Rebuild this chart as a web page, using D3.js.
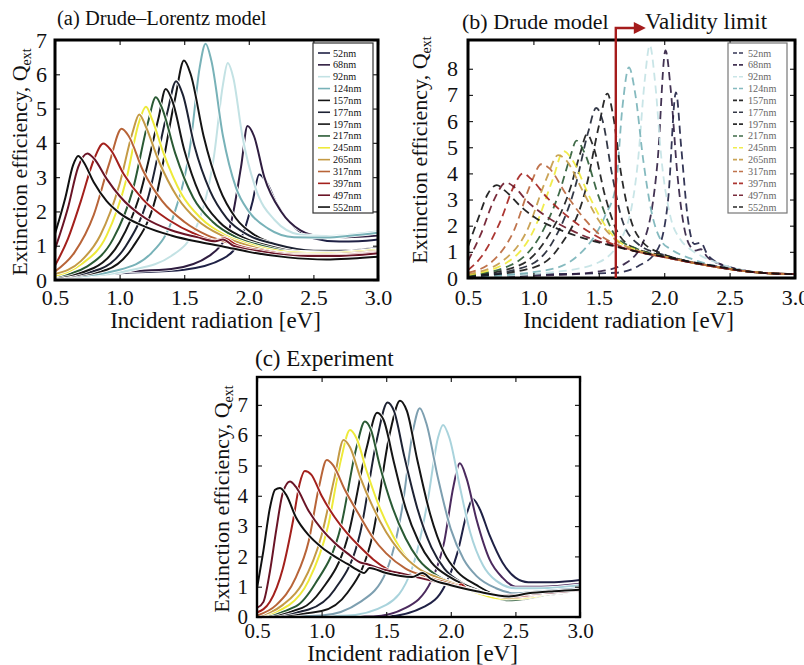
<!DOCTYPE html>
<html>
<head>
<meta charset="utf-8">
<script src="https://cdn.jsdelivr.net/npm/d3@7"></script>
<style>
  body { margin: 0; background: #fff; }
  svg { display: block; }
  svg text { font-family: "Liberation Serif", "Times New Roman", serif !important; }
</style>
</head>
<body>
<svg id="chart" width="804" height="665"></svg>
<script>
// particle sizes, same order in every panel
var sizes = ["52nm", "68nm", "92nm", "124nm", "157nm", "177nm", "197nm",
             "217nm", "245nm", "265nm", "317nm", "397nm", "497nm", "552nm"];

// line colours, one per size
var lineColors = ["#1f2145", "#2f1d40", "#c3e2e4", "#78b2b8", "#141414", "#1d2233", "#161616",
                  "#2a5a34", "#eeea3a", "#c49a45", "#b86438", "#a3201c", "#6a1426", "#111111"];

var xTicks = [0.5, 1.0, 1.5, 2.0, 2.5, 3.0];
var yTicksA = [0, 1, 2, 3, 4, 5, 6, 7];
var yTicksB = [0, 1, 2, 3, 4, 5, 6, 7, 8];
var yTicksC = [0, 1, 2, 3, 4, 5, 6, 7];

// (a) Drude-Lorentz model, [eV, Qext]
var curvesA = [
  [[0.5,0.04],[1.0,0.2],[1.5,0.3],[1.8,0.62],[1.95,1.3],[2.03,2.3],[2.08,3.08],[2.13,2.9],[2.22,2.2],[2.35,1.55],[2.5,1.22],[2.7,1.12],[2.85,1.13],[3.0,1.18]],
  [[0.5,0.05],[1.0,0.24],[1.4,0.32],[1.7,0.72],[1.85,1.5],[1.94,3.3],[1.99,4.49],[2.04,4.2],[2.12,3.0],[2.25,2.0],[2.4,1.45],[2.55,1.28],[2.75,1.25],[3.0,1.3]],
  [[0.5,0.04],[1.1,0.3],[1.4,0.7],[1.6,1.6],[1.73,3.6],[1.8,5.7],[1.837,6.33],[1.88,5.9],[1.95,4.2],[2.05,2.7],[2.2,1.75],[2.4,1.32],[2.6,1.28],[2.8,1.33],[3.0,1.42]],
  [[0.5,0.05],[1.0,0.3],[1.25,0.8],[1.42,1.9],[1.55,4.0],[1.62,6.2],[1.666,6.89],[1.71,6.4],[1.8,4.2],[1.9,2.7],[2.0,2.0],[2.15,1.5],[2.35,1.25],[2.6,1.24],[2.8,1.3],[3.0,1.38]],
  [[0.5,0.06],[0.9,0.3],[1.1,0.95],[1.28,2.4],[1.43,5.3],[1.498,6.4],[1.55,6.0],[1.65,4.2],[1.77,2.7],[1.9,1.8],[2.05,1.3],[2.25,1.0],[2.5,0.86],[2.75,0.86],[3.0,0.95]],
  [[0.5,0.07],[0.85,0.32],[1.05,1.0],[1.22,2.4],[1.37,4.9],[1.437,5.8],[1.49,5.4],[1.58,3.9],[1.7,2.6],[1.83,1.8],[2.0,1.3],[2.2,1.05],[2.5,0.85],[2.75,0.84],[3.0,0.93]],
  [[0.5,0.08],[0.8,0.35],[1.0,1.1],[1.15,2.4],[1.3,4.7],[1.357,5.57],[1.41,5.2],[1.5,3.8],[1.62,2.5],[1.77,1.7],[1.95,1.25],[2.15,1.0],[2.4,0.82],[2.7,0.8],[3.0,0.9]],
  [[0.5,0.1],[0.75,0.4],[0.95,1.2],[1.1,2.6],[1.22,4.6],[1.28,5.33],[1.33,5.0],[1.43,3.7],[1.57,2.4],[1.72,1.7],[1.9,1.25],[2.1,1.0],[2.4,0.8],[2.7,0.78],[3.0,0.88]],
  [[0.5,0.12],[0.7,0.45],[0.9,1.3],[1.05,2.9],[1.15,4.6],[1.204,5.05],[1.25,4.7],[1.34,3.7],[1.48,2.5],[1.63,1.8],[1.82,1.3],[2.0,1.05],[2.3,0.82],[2.6,0.78],[3.0,0.88]],
  [[0.5,0.18],[0.7,0.55],[0.85,1.3],[1.0,2.8],[1.1,4.3],[1.152,4.83],[1.2,4.5],[1.3,3.5],[1.45,2.4],[1.6,1.75],[1.8,1.28],[2.0,1.0],[2.3,0.78],[2.6,0.75],[3.0,0.85]],
  [[0.5,0.25],[0.65,0.8],[0.8,1.9],[0.92,3.4],[1.016,4.41],[1.07,4.2],[1.18,3.2],[1.33,2.3],[1.5,1.7],[1.68,1.3],[1.85,1.08],[2.0,0.93],[2.3,0.75],[2.6,0.72],[3.0,0.82]],
  [[0.5,0.42],[0.6,1.2],[0.7,2.3],[0.8,3.5],[0.874,3.98],[0.93,3.8],[1.03,3.1],[1.18,2.35],[1.38,1.75],[1.58,1.35],[1.74,1.15],[1.81,1.22],[1.9,1.03],[2.1,0.86],[2.4,0.72],[2.7,0.72],[3.0,0.8]],
  [[0.5,0.9],[0.6,2.1],[0.68,3.3],[0.75,3.69],[0.8,3.55],[0.9,2.95],[1.0,2.45],[1.2,1.8],[1.4,1.45],[1.6,1.25],[1.74,1.13],[1.8,1.18],[1.88,1.0],[2.1,0.83],[2.4,0.7],[2.7,0.7],[3.0,0.78]],
  [[0.5,1.35],[0.58,2.4],[0.64,3.35],[0.68,3.62],[0.72,3.45],[0.8,2.85],[0.9,2.3],[1.0,1.95],[1.2,1.55],[1.4,1.3],[1.6,1.12],[1.8,0.98],[2.0,0.82],[2.3,0.66],[2.6,0.6],[2.8,0.63],[3.0,0.68]]
];

// (b) Drude model
var curvesB = [
  [[0.5,0.12],[1.0,0.14],[1.4,0.17],[1.63,0.2],[1.8,0.45],[1.95,1.1],[2.03,3.0],[2.09,7.1],[2.13,5.0],[2.18,2.3],[2.23,1.3],[2.28,1.35],[2.33,0.9],[2.4,0.6],[2.6,0.3],[2.8,0.18],[3.0,0.15]],
  [[0.5,0.04],[1.2,0.12],[1.5,0.25],[1.7,0.55],[1.85,1.5],[1.95,4.5],[2.01,8.7],[2.05,7.2],[2.1,4.0],[2.15,2.0],[2.2,1.2],[2.24,1.05],[2.28,1.1],[2.33,0.8],[2.45,0.5],[2.6,0.3],[2.8,0.18],[3.0,0.15]],
  [[0.5,0.03],[1.2,0.25],[1.5,0.6],[1.7,1.8],[1.8,4.5],[1.85,7.5],[1.89,8.9],[1.93,7.5],[1.98,4.5],[2.05,2.3],[2.12,1.5],[2.2,1.1],[2.3,0.8],[2.45,0.5],[2.6,0.3],[2.8,0.18],[3.0,0.15]],
  [[0.5,0.04],[1.1,0.3],[1.35,0.9],[1.55,2.4],[1.63,3.5],[1.68,6.5],[1.73,8.05],[1.78,7.0],[1.84,4.5],[1.9,2.6],[1.98,1.4],[2.05,1.1],[2.2,0.75],[2.4,0.45],[2.6,0.28],[2.8,0.18],[3.0,0.15]],
  [[0.5,0.05],[1.0,0.4],[1.2,1.2],[1.4,3.4],[1.5,5.8],[1.565,7.05],[1.61,6.2],[1.67,4.0],[1.74,2.3],[1.83,1.4],[2.0,0.9],[2.2,0.62],[2.4,0.43],[2.6,0.27],[2.8,0.18],[3.0,0.15]],
  [[0.5,0.06],[0.95,0.45],[1.15,1.4],[1.32,3.5],[1.42,5.6],[1.48,6.5],[1.53,6.0],[1.6,4.0],[1.68,2.2],[1.8,1.3],[2.0,0.88],[2.2,0.62],[2.4,0.43],[2.6,0.27],[2.8,0.18],[3.0,0.15]],
  [[0.5,0.08],[0.9,0.5],[1.1,1.5],[1.28,3.4],[1.36,4.8],[1.41,5.5],[1.46,5.0],[1.55,3.1],[1.63,1.9],[1.75,1.2],[2.0,0.85],[2.2,0.6],[2.4,0.42],[2.6,0.27],[2.8,0.18],[3.0,0.15]],
  [[0.5,0.1],[0.85,0.55],[1.05,1.6],[1.2,3.3],[1.28,4.6],[1.33,5.25],[1.39,4.8],[1.5,3.1],[1.63,1.6],[1.8,1.1],[2.0,0.82],[2.2,0.6],[2.4,0.42],[2.6,0.27],[2.8,0.18],[3.0,0.15]],
  [[0.5,0.12],[0.8,0.6],[1.0,1.8],[1.15,3.8],[1.23,4.85],[1.3,4.5],[1.42,3.2],[1.55,2.0],[1.63,1.5],[1.8,1.05],[2.0,0.82],[2.2,0.6],[2.4,0.42],[2.6,0.27],[2.8,0.18],[3.0,0.15]],
  [[0.5,0.15],[0.75,0.6],[0.95,1.8],[1.1,3.8],[1.19,4.7],[1.25,4.5],[1.38,3.3],[1.5,2.2],[1.63,1.45],[1.8,1.05],[2.0,0.8],[2.2,0.6],[2.4,0.42],[2.6,0.27],[2.8,0.18],[3.0,0.15]],
  [[0.5,0.2],[0.7,0.7],[0.85,1.8],[0.98,3.6],[1.06,4.35],[1.12,4.2],[1.25,3.2],[1.4,2.2],[1.55,1.5],[1.63,1.3],[1.8,1.0],[2.0,0.8],[2.2,0.6],[2.4,0.42],[2.6,0.27],[2.8,0.18],[3.0,0.15]],
  [[0.5,0.3],[0.6,0.8],[0.75,2.2],[0.85,3.5],[0.92,4.0],[0.98,3.8],[1.1,3.1],[1.3,2.2],[1.5,1.55],[1.63,1.25],[1.8,1.0],[2.0,0.8],[2.2,0.6],[2.4,0.42],[2.6,0.27],[2.8,0.18],[3.0,0.15]],
  [[0.5,0.65],[0.6,1.7],[0.7,3.0],[0.79,3.65],[0.86,3.45],[0.95,2.95],[1.1,2.35],[1.3,1.8],[1.5,1.4],[1.63,1.22],[1.8,1.0],[2.0,0.8],[2.2,0.6],[2.4,0.43],[2.6,0.27],[2.8,0.18],[3.0,0.15]],
  [[0.5,1.2],[0.58,2.3],[0.65,3.2],[0.72,3.55],[0.78,3.35],[0.9,2.75],[1.0,2.35],[1.2,1.85],[1.4,1.5],[1.63,1.2],[1.8,1.0],[2.0,0.82],[2.2,0.62],[2.4,0.45],[2.6,0.28],[2.8,0.18],[3.0,0.15]]
];

// (c) Experiment
var curvesC = [
  [[0.5,0.0],[1.5,0.02],[1.8,0.35],[1.95,1.0],[2.05,2.1],[2.13,3.5],[2.17,3.89],[2.22,3.6],[2.3,2.7],[2.4,1.8],[2.5,1.3],[2.6,1.15],[2.8,1.15],[3.0,1.22]],
  [[0.5,0.0],[1.4,0.02],[1.65,0.3],[1.85,1.2],[1.95,2.5],[2.02,4.3],[2.07,5.07],[2.12,4.6],[2.2,3.2],[2.3,1.9],[2.4,1.3],[2.5,1.0],[2.7,1.0],[3.0,1.1]],
  [[0.5,0.0],[1.2,0.05],[1.5,0.4],[1.7,1.6],[1.82,3.8],[1.9,5.9],[1.94,6.34],[1.99,5.9],[2.07,4.3],[2.15,2.8],[2.25,1.7],[2.35,1.2],[2.5,0.95],[2.7,0.95],[3.0,1.05]],
  [[0.5,0.0],[1.0,0.05],[1.3,0.5],[1.5,1.5],[1.62,3.5],[1.71,6.2],[1.76,6.89],[1.81,6.4],[1.9,4.6],[2.0,2.9],[2.1,1.9],[2.2,1.35],[2.35,0.95],[2.5,0.78],[2.7,0.85],[3.0,0.95]],
  [[0.5,0.0],[1.0,0.2],[1.2,0.8],[1.4,2.8],[1.53,6.1],[1.607,7.14],[1.66,6.8],[1.74,5.2],[1.84,3.4],[1.95,2.1],[2.05,1.5],[2.2,1.05],[2.4,0.65],[2.55,0.6],[2.7,0.7],[3.0,0.85]],
  [[0.5,0.0],[0.9,0.25],[1.1,0.9],[1.3,2.8],[1.43,5.9],[1.51,7.08],[1.56,6.8],[1.64,5.3],[1.74,3.6],[1.85,2.3],[1.95,1.6],[2.1,1.1],[2.3,0.75],[2.45,0.58],[2.6,0.62],[2.8,0.78],[3.0,0.85]],
  [[0.5,0.0],[0.85,0.3],[1.0,0.9],[1.2,2.6],[1.35,5.6],[1.43,6.74],[1.48,6.5],[1.56,5.1],[1.65,3.6],[1.75,2.5],[1.85,1.8],[2.0,1.3],[2.2,0.9],[2.4,0.6],[2.55,0.58],[2.7,0.72],[3.0,0.85]],
  [[0.5,0.01],[0.8,0.35],[0.95,1.1],[1.15,3.0],[1.27,5.6],[1.335,6.45],[1.38,6.2],[1.45,5.0],[1.55,3.6],[1.65,2.6],[1.75,1.9],[1.9,1.35],[2.1,1.0],[2.3,0.7],[2.45,0.55],[2.6,0.62],[2.8,0.78],[3.0,0.85]],
  [[0.5,0.02],[0.75,0.4],[0.9,1.2],[1.05,3.0],[1.15,5.2],[1.22,6.17],[1.27,5.9],[1.35,4.8],[1.45,3.6],[1.55,2.7],[1.65,2.0],[1.8,1.45],[2.0,1.1],[2.2,0.8],[2.4,0.6],[2.55,0.62],[2.8,0.8],[3.0,0.88]],
  [[0.5,0.02],[0.7,0.4],[0.85,1.1],[1.0,2.7],[1.1,4.6],[1.17,5.84],[1.22,5.6],[1.3,4.6],[1.4,3.6],[1.5,2.8],[1.6,2.2],[1.75,1.6],[1.9,1.3],[2.1,1.0],[2.3,0.75],[2.45,0.62],[2.6,0.68],[2.8,0.82],[3.0,0.88]],
  [[0.5,0.05],[0.65,0.4],[0.8,1.3],[0.9,2.5],[0.98,4.3],[1.04,5.18],[1.09,5.0],[1.18,4.2],[1.3,3.3],[1.4,2.6],[1.5,2.1],[1.65,1.6],[1.8,1.35],[2.0,1.1],[2.2,0.85],[2.4,0.68],[2.6,0.7],[2.8,0.82],[3.0,0.88]],
  [[0.5,0.15],[0.6,0.5],[0.7,1.6],[0.78,3.2],[0.83,4.4],[0.87,4.82],[0.92,4.7],[1.0,4.0],[1.1,3.3],[1.2,2.75],[1.3,2.3],[1.4,1.9],[1.5,1.6],[1.7,1.35],[1.9,1.15],[2.05,1.0],[2.08,1.08],[2.12,0.95],[2.3,0.75],[2.5,0.68],[2.7,0.78],[3.0,0.88]],
  [[0.5,0.3],[0.55,0.5],[0.6,1.5],[0.65,2.9],[0.7,4.1],[0.755,4.47],[0.8,4.3],[0.9,3.5],[1.0,2.9],[1.1,2.45],[1.2,2.1],[1.3,1.8],[1.35,1.75],[1.45,1.6],[1.6,1.45],[1.8,1.25],[2.0,1.05],[2.2,0.85],[2.4,0.7],[2.6,0.75],[2.8,0.82],[3.0,0.88]],
  [[0.5,0.95],[0.55,2.2],[0.6,3.6],[0.64,4.2],[0.678,4.26],[0.73,4.0],[0.8,3.3],[0.9,2.7],[1.0,2.3],[1.1,2.0],[1.2,1.75],[1.3,1.5],[1.33,1.45],[1.37,1.62],[1.5,1.45],[1.7,1.32],[1.78,1.45],[1.85,1.25],[2.0,1.05],[2.2,0.85],[2.45,0.68],[2.6,0.78],[2.8,0.85],[3.0,0.9]]
];

var svg = d3.select("#chart");

function drawPanel(p) {
  var x = d3.scaleLinear().domain([0.5, 3.0]).range([p.left, p.right]);
  var y = d3.scaleLinear().domain([0, p.yMax]).range([p.bottom, p.top]);

  svg.append("clipPath").attr("id", "clip-" + p.id)
    .append("rect")
    .attr("x", p.left).attr("y", p.top)
    .attr("width", p.right - p.left).attr("height", p.bottom - p.top);

  var line = d3.line()
    .x(d => x(d[0]))
    .y(d => y(d[1]))
    .curve(d3.curveMonotoneX);

  var plot = svg.append("g").attr("clip-path", "url(#clip-" + p.id + ")");

  p.curves.forEach(function(c, i) {
    if (p.casing) {
      plot.append("path")
        .attr("d", line(c))
        .attr("fill", "none")
        .attr("stroke", "#fff")
        .attr("stroke-width", 3.6);
    }
    plot.append("path")
      .attr("d", line(c))
      .attr("fill", "none")
      .attr("stroke", p.colors[i])
      .attr("stroke-opacity", p.opacity)
      .attr("stroke-width", p.lineWidth)
      .attr("stroke-dasharray", p.dash);
  });

  // axes, ticks pointing inward
  var bottom = svg.append("g")
    .attr("transform", `translate(0, ${p.bottom})`)
    .call(d3.axisBottom(x).tickValues(xTicks).tickSize(-5).tickPadding(p.xPad).tickFormat(d3.format(".1f")));
  var left = svg.append("g")
    .attr("transform", `translate(${p.left}, 0)`)
    .call(d3.axisLeft(y).tickValues(p.yTicks).tickSize(-5).tickPadding(p.yPad).tickFormat(d3.format("d")));
  svg.append("g")
    .attr("transform", `translate(0, ${p.top})`)
    .call(d3.axisTop(x).tickValues(xTicks).tickSize(-5).tickFormat(""));
  svg.append("g")
    .attr("transform", `translate(${p.right}, 0)`)
    .call(d3.axisRight(y).tickValues(p.yTicks).tickSize(-5).tickFormat(""));

  svg.selectAll(".domain").remove();
  [bottom, left].forEach(function(a) {
    a.selectAll("text")
      .attr("font-size", p.tickFont)
      .attr("fill", "#111");
  });
  svg.selectAll(".tick line").attr("stroke", "#222").attr("stroke-width", 1.2);

  // frame
  svg.append("rect")
    .attr("x", p.left).attr("y", p.top)
    .attr("width", p.right - p.left).attr("height", p.bottom - p.top)
    .attr("fill", "none")
    .attr("stroke", "#000")
    .attr("stroke-width", p.frameWidth);

  // titles
  svg.append("text")
    .attr("x", p.titleX).attr("y", p.titleY)
    .attr("font-size", p.titleFont)
    .attr("fill", "#111")
    .text(p.title);

  svg.append("text")
    .attr("x", (p.left + p.right) / 2 + p.xLabelShift).attr("y", p.xLabelY)
    .attr("text-anchor", "middle")
    .attr("font-size", 23)
    .attr("fill", "#111")
    .text("Incident radiation [eV]");

  var yl = svg.append("text")
    .attr("transform", `translate(${p.yLabelX}, ${p.yLabelY}) rotate(-90)`)
    .attr("text-anchor", "middle")
    .attr("font-size", 22)
    .attr("fill", "#111");
  yl.append("tspan").text("Extinction efficiency, Q");
  yl.append("tspan").attr("font-size", 14).attr("dy", 4).text("ext");

  // legend
  if (p.legend) {
    var lg = svg.append("g");
    lg.append("rect")
      .attr("x", p.legend.x).attr("y", p.legend.y)
      .attr("width", p.legend.w).attr("height", p.legend.h)
      .attr("fill", "#fff")
      .attr("stroke", p.legend.border)
      .attr("stroke-width", 1.2);
    sizes.forEach(function(s, i) {
      var ly = p.legend.y + 10 + i * 11.85;
      lg.append("line")
        .attr("x1", p.legend.x + 5).attr("x2", p.legend.x + 17)
        .attr("y1", ly).attr("y2", ly)
        .attr("stroke", p.colors[i])
        .attr("stroke-opacity", p.opacity)
        .attr("stroke-width", 1.6)
        .attr("stroke-dasharray", p.dash ? "4,2" : null);
      lg.append("text")
        .attr("x", p.legend.x + 20).attr("y", ly + 3.5)
        .attr("font-size", 10.2)
        .attr("fill", p.legend.textColor)
        .text(s);
    });
  }
  return { x: x, y: y };
}

drawPanel({
  id: "a", left: 55, right: 378, top: 40, bottom: 280, yMax: 7, yTicks: yTicksA,
  curves: curvesA, colors: lineColors, casing: true, lineWidth: 2, dash: null, opacity: 1,
  tickFont: 22, xPad: 9, yPad: 8, frameWidth: 3,
  title: "(a) Drude\u2013Lorentz model", titleFont: 20.5, titleX: 57, titleY: 25,
  xLabelY: 328, xLabelShift: -1, yLabelX: 27, yLabelY: 162,
  legend: { x: 313, y: 43, w: 60, h: 170, border: "#333", textColor: "#111" }
});

var pb = drawPanel({
  id: "b", left: 468, right: 795, top: 40, bottom: 278, yMax: 9.1, yTicks: yTicksB,
  curves: curvesB, colors: lineColors, casing: false, lineWidth: 1.8, dash: "8,5", opacity: 0.9,
  tickFont: 22, xPad: 11, yPad: 10, frameWidth: 3,
  title: "(b) Drude model", titleFont: 22, titleX: 462, titleY: 29,
  xLabelY: 328, xLabelShift: -3, yLabelX: 427, yLabelY: 150,
  legend: { x: 728, y: 43, w: 59, h: 170, border: "#777", textColor: "#666" }
});

var expColors = lineColors.slice();
expColors[2] = "#a9d3dc";
expColors[3] = "#7d9fb0";
expColors[1] = "#4b2a5e";

drawPanel({
  id: "c", left: 257, right: 580, top: 377, bottom: 617, yMax: 7.92, yTicks: yTicksC,
  curves: curvesC, colors: expColors, casing: true, lineWidth: 2, dash: null, opacity: 1,
  tickFont: 21, xPad: 6, yPad: 9, frameWidth: 2.4,
  title: "(c) Experiment", titleFont: 23, titleX: 255, titleY: 366,
  xLabelY: 661, xLabelShift: -6, yLabelX: 229, yLabelY: 499,
  legend: null
});

// validity limit marker in (b)
var validity = 1.63;
var vx = pb.x(validity);
svg.append("path")
  .attr("d", `M${vx},${pb.y(0)}V28H${vx + 20}`)
  .attr("fill", "none")
  .attr("stroke", "#a51c1c")
  .attr("stroke-width", 2.4);
svg.append("path")
  .attr("d", `M${vx + 18},22L${vx + 30},28L${vx + 18},34Z`)
  .attr("fill", "#a51c1c");
svg.append("text")
  .attr("x", 645).attr("y", 29)
  .attr("font-size", 23)
  .attr("fill", "#111")
  .text("Validity limit");
</script>
</body>
</html>
